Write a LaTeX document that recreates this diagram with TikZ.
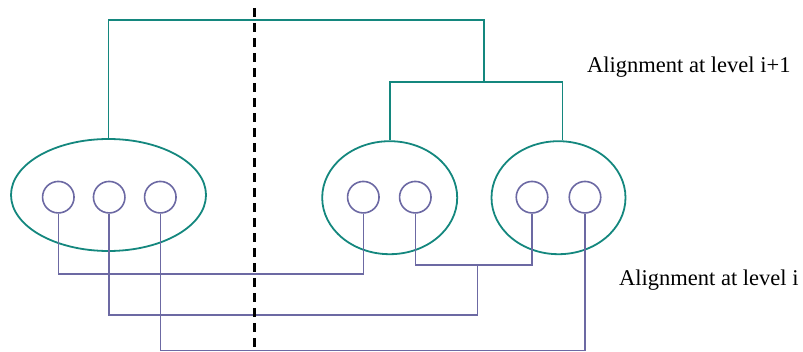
\documentclass[tikz,border=0pt]{standalone}
\usepackage{fontspec}
\setmainfont{Liberation Serif}
\usetikzlibrary{shapes.geometric}
\definecolor{tealc}{HTML}{14877E}
\definecolor{purpc}{HTML}{6C69A3}
\begin{document}
\begin{tikzpicture}[x=1pt,y=-1pt,
  grp/.style={ellipse,draw=tealc,line width=1.8pt,inner sep=0pt},
  elem/.style={circle,draw=purpc,line width=1.6pt,inner sep=0pt,minimum size=31.5pt},
  tline/.style={draw=tealc,line width=1.8pt},
  pline/.style={draw=purpc,line width=1.6pt},
  lbl/.style={anchor=base west,inner sep=0pt,font=\fontsize{22.5}{27}\selectfont}]
\useasboundingbox (0,0) rectangle (803,352);
% groups
\node[grp,minimum width=195pt,minimum height=112pt] (e1) at (108.5,195) {};
\node[grp,minimum width=135pt,minimum height=113pt] (e2) at (389.7,197.7) {};
\node[grp,minimum width=134pt,minimum height=113pt] (e3) at (558.5,197.7) {};
% elements
\node[elem] (c1) at (58.3,197.2) {};
\node[elem] (c2) at (109.2,197.2) {};
\node[elem] (c3) at (160.3,197.2) {};
\node[elem] (c4) at (363.3,197.2) {};
\node[elem] (c5) at (415.3,197.2) {};
\node[elem] (c6) at (532,197.2) {};
\node[elem] (c7) at (585,197.2) {};
% teal connectors
\coordinate (ttop) at (483.7,20);
\coordinate (tmid) at (483.7,82);
\draw[tline] (e1.north) |- (ttop) -- (tmid);
\draw[tline] (e2.north) -- (e2.north |- tmid) -- ([xshift=4pt]e3.north |- tmid) -- ([xshift=4pt]e3.north);
% purple connectors
\coordinate (p1) at (0,274.3);
\coordinate (j) at (477.3,265.3);
\coordinate (j2) at (477.3,315.3);
\coordinate (p3) at (0,350.5);
\draw[pline] (c1.south) -- (c1.south |- p1) -| (c4.south);
\draw[pline] (c5.south) |- (j) -| (c6.south);
\draw[pline] (c2.south) |- (j2) -- (j);
\draw[pline] (c3.south) -- (c3.south |- p3) -| (c7.south);
% dashed separator
\coordinate (d1) at (254.3,8);
\coordinate (d2) at (254.3,352);
\draw[black,line width=3pt,dash pattern=on 9pt off 6pt] (d1) -- (d2);
% labels
\node[lbl] (l1) at (587,73) {Alignment at level i+1};
\node[lbl] (l2) at (619,286) {Alignment at level i};
\end{tikzpicture}
\end{document}
